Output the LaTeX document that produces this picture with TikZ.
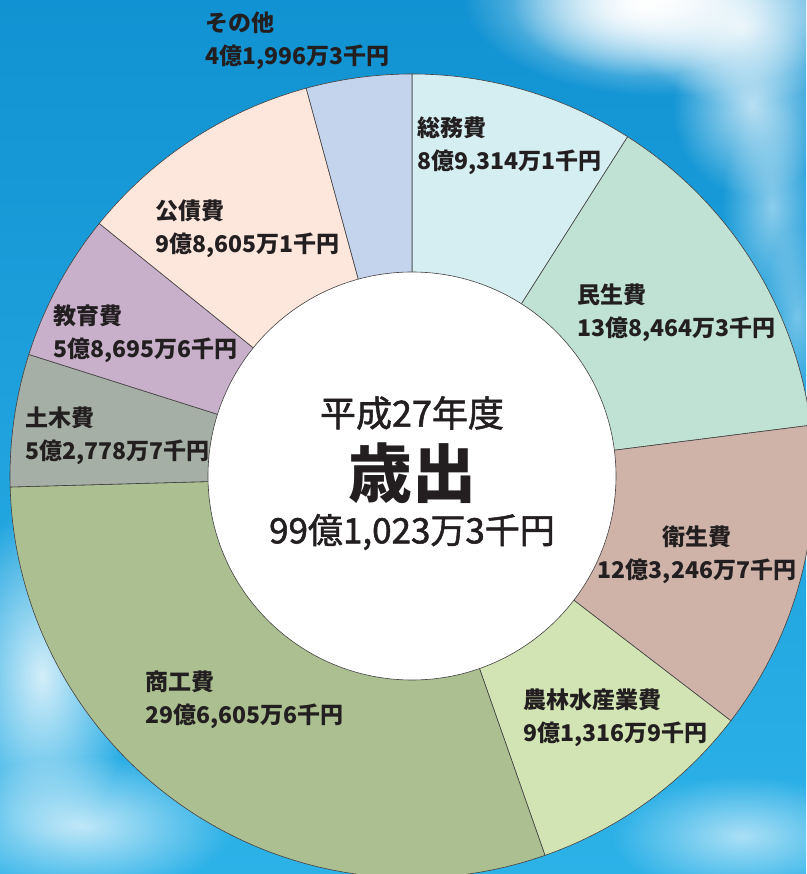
\documentclass[tikz,border=0pt]{standalone}
\usepackage{fontspec}
\newfontfamily\jp{Noto Sans CJK JP}
\newfontfamily\jpmid[FakeBold=1.5]{Noto Sans CJK JP}
\usetikzlibrary{positioning,fadings}
\tikzfading[name=puff, inner color=transparent!0, outer color=transparent!100]
\definecolor{ink}{HTML}{231F20}
\definecolor{skytop}{HTML}{1192D2}
\definecolor{skybot}{HTML}{2DB2E8}
\definecolor{somu}{HTML}{D5EEF1}
\definecolor{minsei}{HTML}{BFE2D4}
\definecolor{eisei}{HTML}{CFB3A9}
\definecolor{norin}{HTML}{D2E4B3}
\definecolor{shoko}{HTML}{ABBF90}
\definecolor{doboku}{HTML}{A5AFA5}
\definecolor{kyoiku}{HTML}{C8B0CB}
\definecolor{kosai}{HTML}{FDE6DC}
\definecolor{sonota}{HTML}{C5D4ED}
\begin{document}
\begin{tikzpicture}[x=1pt,y=1pt,
slice/.style = {draw=ink!85, line width=0.6pt},
cloud/.style = {fill=white, path fading=puff},
lbl/.style = {anchor=west, inner sep=0pt, align=left, text=ink, font=\jp\bfseries\fontsize{23}{33}\selectfont},
]
\useasboundingbox (-412,-398) rectangle (394,476);
% sky
\shade[top color=skytop, bottom color=skybot] (-412,-398) rectangle (394,476);
\fill[cloud] (250,480) ellipse (200 and 100);
\fill[cloud] (230,470) ellipse (130 and 70);
\fill[cloud, opacity=0.8] (330,450) ellipse (110 and 80);
\fill[cloud, opacity=0.7] (340,370) ellipse (80 and 90);
\fill[cloud, opacity=0.5] (360,270) ellipse (50 and 110);
\fill[cloud, opacity=0.4] (385,160) ellipse (35 and 90);
\fill[cloud, opacity=0.8] (-370,-200) ellipse (90 and 170);
\fill[cloud, opacity=0.7] (-330,-350) ellipse (150 and 70);
\fill[cloud, opacity=0.6] (330,-360) ellipse (130 and 60);
% sectors
\draw[slice, fill=somu] (0,0) -- (90:402) arc[start angle=90, end angle=57.56, radius=402] -- cycle;
\draw[slice, fill=minsei] (0,0) -- (57.56:402) arc[start angle=57.56, end angle=7.26, radius=402] -- cycle;
\draw[slice, fill=eisei] (0,0) -- (7.26:402) arc[start angle=7.26, end angle=-37.51, radius=402] -- cycle;
\draw[slice, fill=norin] (0,0) -- (-37.51:402) arc[start angle=-37.51, end angle=-70.68, radius=402] -- cycle;
\draw[slice, fill=shoko] (0,0) -- (-70.68:402) arc[start angle=-70.68, end angle=-178.43, radius=402] -- cycle;
\draw[slice, fill=doboku] (0,0) -- (-178.43:402) arc[start angle=-178.43, end angle=-197.60, radius=402] -- cycle;
\draw[slice, fill=kyoiku] (0,0) -- (-197.60:402) arc[start angle=-197.60, end angle=-218.92, radius=402] -- cycle;
\draw[slice, fill=kosai] (0,0) -- (-218.92:402) arc[start angle=-218.92, end angle=-254.74, radius=402] -- cycle;
\draw[slice, fill=sonota] (0,0) -- (-254.74:402) arc[start angle=-254.74, end angle=-270, radius=402] -- cycle;
\node (hub) at (0,0)[circle, draw=ink!85, line width=0.6pt, fill=white, minimum size=408pt, inner sep=0pt] {};
% centre
\node (year) at (0,63)[text=ink, font=\jpmid\fontsize{36}{40}\selectfont] {平成27年度};
\node (title) at (0,3)[text=ink, font=\jp\bfseries\fontsize{64}{70}\selectfont] {歳出};
\node (total) at (0,-56)[text=ink, font=\jpmid\fontsize{35}{40}\selectfont] {99億1,023万3千円};
% labels
\node (lsonota) at (-207,435)[lbl] {その他\\4億1,996万3千円};
\node (lsomu) at (5,330)[lbl] {総務費\\8億9,314万1千円};
\node (lminsei) at (165,163)[lbl] {民生費\\13億8,464万3千円};
\node (leisei) at (285,-79)[lbl, anchor=center, align=center] {衛生費\\12億3,246万7千円};
\node (lnorin) at (111,-242)[lbl] {農林水産業費\\9億1,316万9千円};
\node (lshoko) at (-267,-224)[lbl] {商工費\\29億6,605万6千円};
\node (ldoboku) at (-387,40)[lbl] {土木費\\5億2,778万7千円};
\node (lkyoiku) at (-359,142)[lbl] {教育費\\5億8,695万6千円};
\node (lkosai) at (-257,247)[lbl] {公債費\\9億8,605万1千円};
\end{tikzpicture}
\end{document}
